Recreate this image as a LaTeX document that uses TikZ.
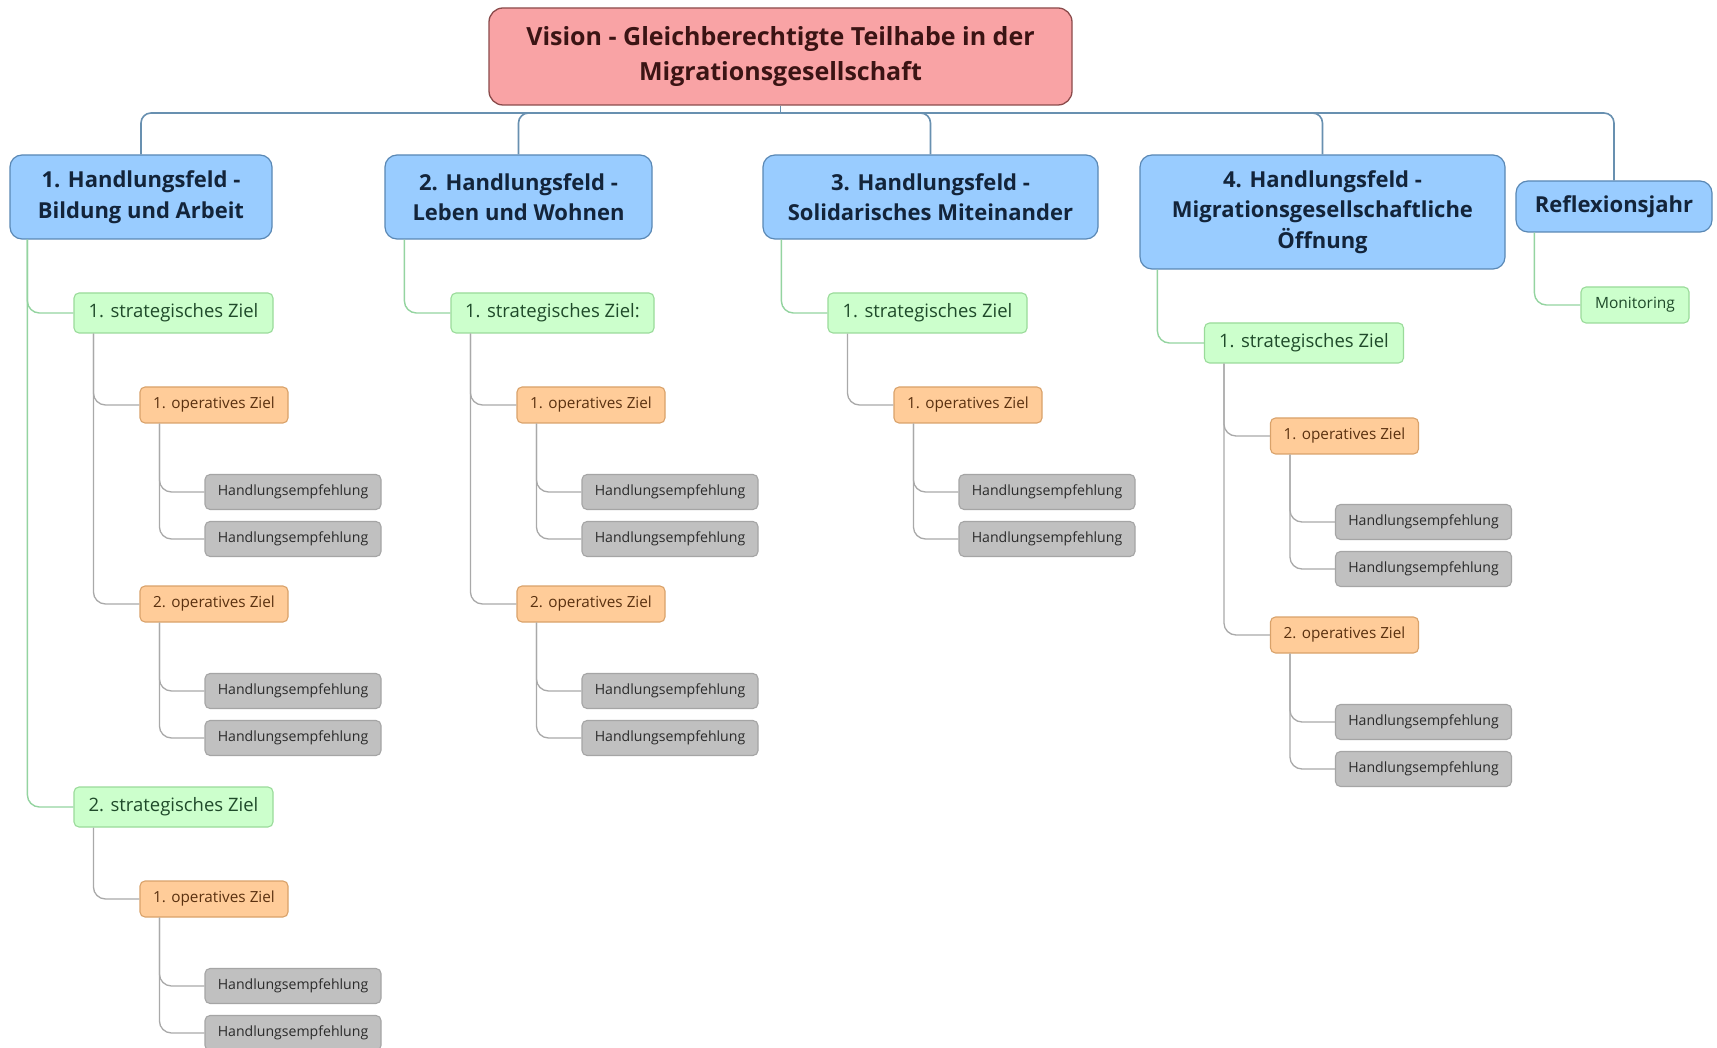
\documentclass[tikz,border=0pt]{standalone}
\usepackage{fontspec}
\setmainfont{Open Sans}
\definecolor{visF}{HTML}{F9A3A5}
\definecolor{visB}{HTML}{8B4B4B}
\definecolor{visT}{HTML}{3B1414}
\definecolor{hfF}{HTML}{99CCFF}
\definecolor{hfB}{HTML}{5A88B5}
\definecolor{hfT}{HTML}{13243A}
\definecolor{stF}{HTML}{CCFFCC}
\definecolor{stB}{HTML}{9ADB9A}
\definecolor{stT}{HTML}{1F4A2A}
\definecolor{opF}{HTML}{FFCC99}
\definecolor{opB}{HTML}{D9A26A}
\definecolor{opT}{HTML}{5A3110}
\definecolor{heF}{HTML}{C0C0C0}
\definecolor{heB}{HTML}{A5A5A5}
\definecolor{heT}{HTML}{2A2A2A}
\definecolor{busC}{HTML}{6890B0}
\definecolor{gC}{HTML}{94D4A0}
\definecolor{kC}{HTML}{A9A9A9}
\begin{document}
\begin{tikzpicture}[x=1pt,y=-1pt,
  vision/.style={draw=visB, fill=visF, rounded corners=14, line width=1.3, minimum width=583, minimum height=97, align=center, inner sep=0, text=visT, font=\fontsize{25}{35}\selectfont\bfseries},
  hf/.style={draw=hfB, fill=hfF, rounded corners=12, line width=1.2, minimum height=84, align=center, inner sep=0, text=hfT, font=\fontsize{22}{30.5}\selectfont\bfseries},
  strat/.style={draw=stB, fill=stF, rounded corners=5, line width=1.1, minimum width=199, minimum height=40, inner sep=0, text=stT, font=\fontsize{18.5}{22}\selectfont},
  opz/.style={draw=opB, fill=opF, rounded corners=5, line width=1.1, minimum width=148, minimum height=36, inner sep=0, text=opT, font=\fontsize{15.3}{18}\selectfont},
  hebox/.style={draw=heB, fill=heF, rounded corners=5, line width=1.1, minimum width=176, minimum height=35, inner sep=0, text=heT, font=\fontsize{14.1}{17}\selectfont},
  busline/.style={draw=busC, line width=1.6, rounded corners=10},
  gline/.style={draw=gC, line width=1.4, rounded corners=12},
  kline/.style={draw=kC, line width=1.3, rounded corners=12}
]
\useasboundingbox[fill=white] (0,0) rectangle (1717,1048);

\node[vision] (vis) at (780.5,56.5) {Vision - Gleichberechtigte Teilhabe in der\\Migrationsgesellschaft};
\node[hf, minimum width=262] (hf1) at (141,197) {1. Handlungsfeld -\\Bildung und Arbeit};
\node[hf, minimum width=267] (hf2) at (518.5,197) {2. Handlungsfeld -\\Leben und Wohnen};
\node[hf, minimum width=335] (hf3) at (930.5,197) {3. Handlungsfeld -\\Solidarisches Miteinander};
\node[hf, minimum width=365, minimum height=114] (hf4) at (1322.5,212) {4. Handlungsfeld -\\Migrationsgesellschaftliche\\Öffnung};
\node[hf, minimum width=196, minimum height=51] (refl) at (1614,206.5) {Reflexionsjahr};

\coordinate (bus) at (780.5,113);
\draw[busline] (vis.south) -- (bus);
\draw[busline] (bus) -| (hf1.north);
\draw[busline] (bus) -| (hf2.north);
\draw[busline] (bus) -| (hf3.north);
\draw[busline] (bus) -| (hf4.north);
\draw[busline] (bus) -| (refl.north);

% column 1
\node[strat] (s11) at (173.5,313) {1. strategisches Ziel};
\node[strat] (s12) at (173.5,807) {2. strategisches Ziel};
\node[opz] (o111) at (214,405) {1. operatives Ziel};
\node[opz] (o112) at (214,604) {2. operatives Ziel};
\node[opz] (o121) at (214,899) {1. operatives Ziel};
\node[hebox] (h1111) at (293,492) {Handlungsempfehlung};
\node[hebox] (h1112) at (293,539) {Handlungsempfehlung};
\node[hebox] (h1121) at (293,691) {Handlungsempfehlung};
\node[hebox] (h1122) at (293,738) {Handlungsempfehlung};
\node[hebox] (h1211) at (293,986) {Handlungsempfehlung};
\node[hebox] (h1212) at (293,1033) {Handlungsempfehlung};

% column 2
\node[strat, minimum width=203] (s21) at (552.5,313) {1. strategisches Ziel:};
\node[opz] (o211) at (591,405) {1. operatives Ziel};
\node[opz] (o212) at (591,604) {2. operatives Ziel};
\node[hebox] (h2111) at (670,492) {Handlungsempfehlung};
\node[hebox] (h2112) at (670,539) {Handlungsempfehlung};
\node[hebox] (h2121) at (670,691) {Handlungsempfehlung};
\node[hebox] (h2122) at (670,738) {Handlungsempfehlung};

% column 3
\node[strat] (s31) at (927.5,313) {1. strategisches Ziel};
\node[opz] (o311) at (968,405) {1. operatives Ziel};
\node[hebox] (h3111) at (1047,492) {Handlungsempfehlung};
\node[hebox] (h3112) at (1047,539) {Handlungsempfehlung};

% column 4
\node[strat] (s41) at (1304,343) {1. strategisches Ziel};
\node[opz] (o411) at (1344.5,436) {1. operatives Ziel};
\node[opz] (o412) at (1344.5,635) {2. operatives Ziel};
\node[hebox] (h4111) at (1423.5,522) {Handlungsempfehlung};
\node[hebox] (h4112) at (1423.5,569) {Handlungsempfehlung};
\node[hebox] (h4121) at (1423.5,722) {Handlungsempfehlung};
\node[hebox] (h4122) at (1423.5,769) {Handlungsempfehlung};

% reflexion
\node[strat, minimum width=108, minimum height=36, font=\fontsize{15.5}{18}\selectfont] (mon) at (1635,305) {Monitoring};

% connectors HF -> strat
\draw[gline] ([xshift=18]hf1.south west) |- (s11.west);
\draw[gline] ([xshift=18]hf1.south west) |- (s12.west);
\draw[gline] ([xshift=20]hf2.south west) |- (s21.west);
\draw[gline] ([xshift=19]hf3.south west) |- (s31.west);
\draw[gline] ([xshift=18]hf4.south west) |- (s41.west);
\draw[gline] ([xshift=19]refl.south west) |- (mon.west);

% strat -> op
\draw[kline] ([xshift=20]s11.south west) |- (o111.west);
\draw[kline] ([xshift=20]s11.south west) |- (o112.west);
\draw[kline] ([xshift=20]s12.south west) |- (o121.west);
\draw[kline] ([xshift=20]s21.south west) |- (o211.west);
\draw[kline] ([xshift=20]s21.south west) |- (o212.west);
\draw[kline] ([xshift=20]s31.south west) |- (o311.west);
\draw[kline] ([xshift=20]s41.south west) |- (o411.west);
\draw[kline] ([xshift=20]s41.south west) |- (o412.west);

% op -> HE
\draw[kline] ([xshift=20]o111.south west) |- (h1111.west);
\draw[kline] ([xshift=20]o111.south west) |- (h1112.west);
\draw[kline] ([xshift=20]o112.south west) |- (h1121.west);
\draw[kline] ([xshift=20]o112.south west) |- (h1122.west);
\draw[kline] ([xshift=20]o121.south west) |- (h1211.west);
\draw[kline] ([xshift=20]o121.south west) |- (h1212.west);
\draw[kline] ([xshift=20]o211.south west) |- (h2111.west);
\draw[kline] ([xshift=20]o211.south west) |- (h2112.west);
\draw[kline] ([xshift=20]o212.south west) |- (h2121.west);
\draw[kline] ([xshift=20]o212.south west) |- (h2122.west);
\draw[kline] ([xshift=20]o311.south west) |- (h3111.west);
\draw[kline] ([xshift=20]o311.south west) |- (h3112.west);
\draw[kline] ([xshift=20]o411.south west) |- (h4111.west);
\draw[kline] ([xshift=20]o411.south west) |- (h4112.west);
\draw[kline] ([xshift=20]o412.south west) |- (h4121.west);
\draw[kline] ([xshift=20]o412.south west) |- (h4122.west);
\end{tikzpicture}
\end{document}
